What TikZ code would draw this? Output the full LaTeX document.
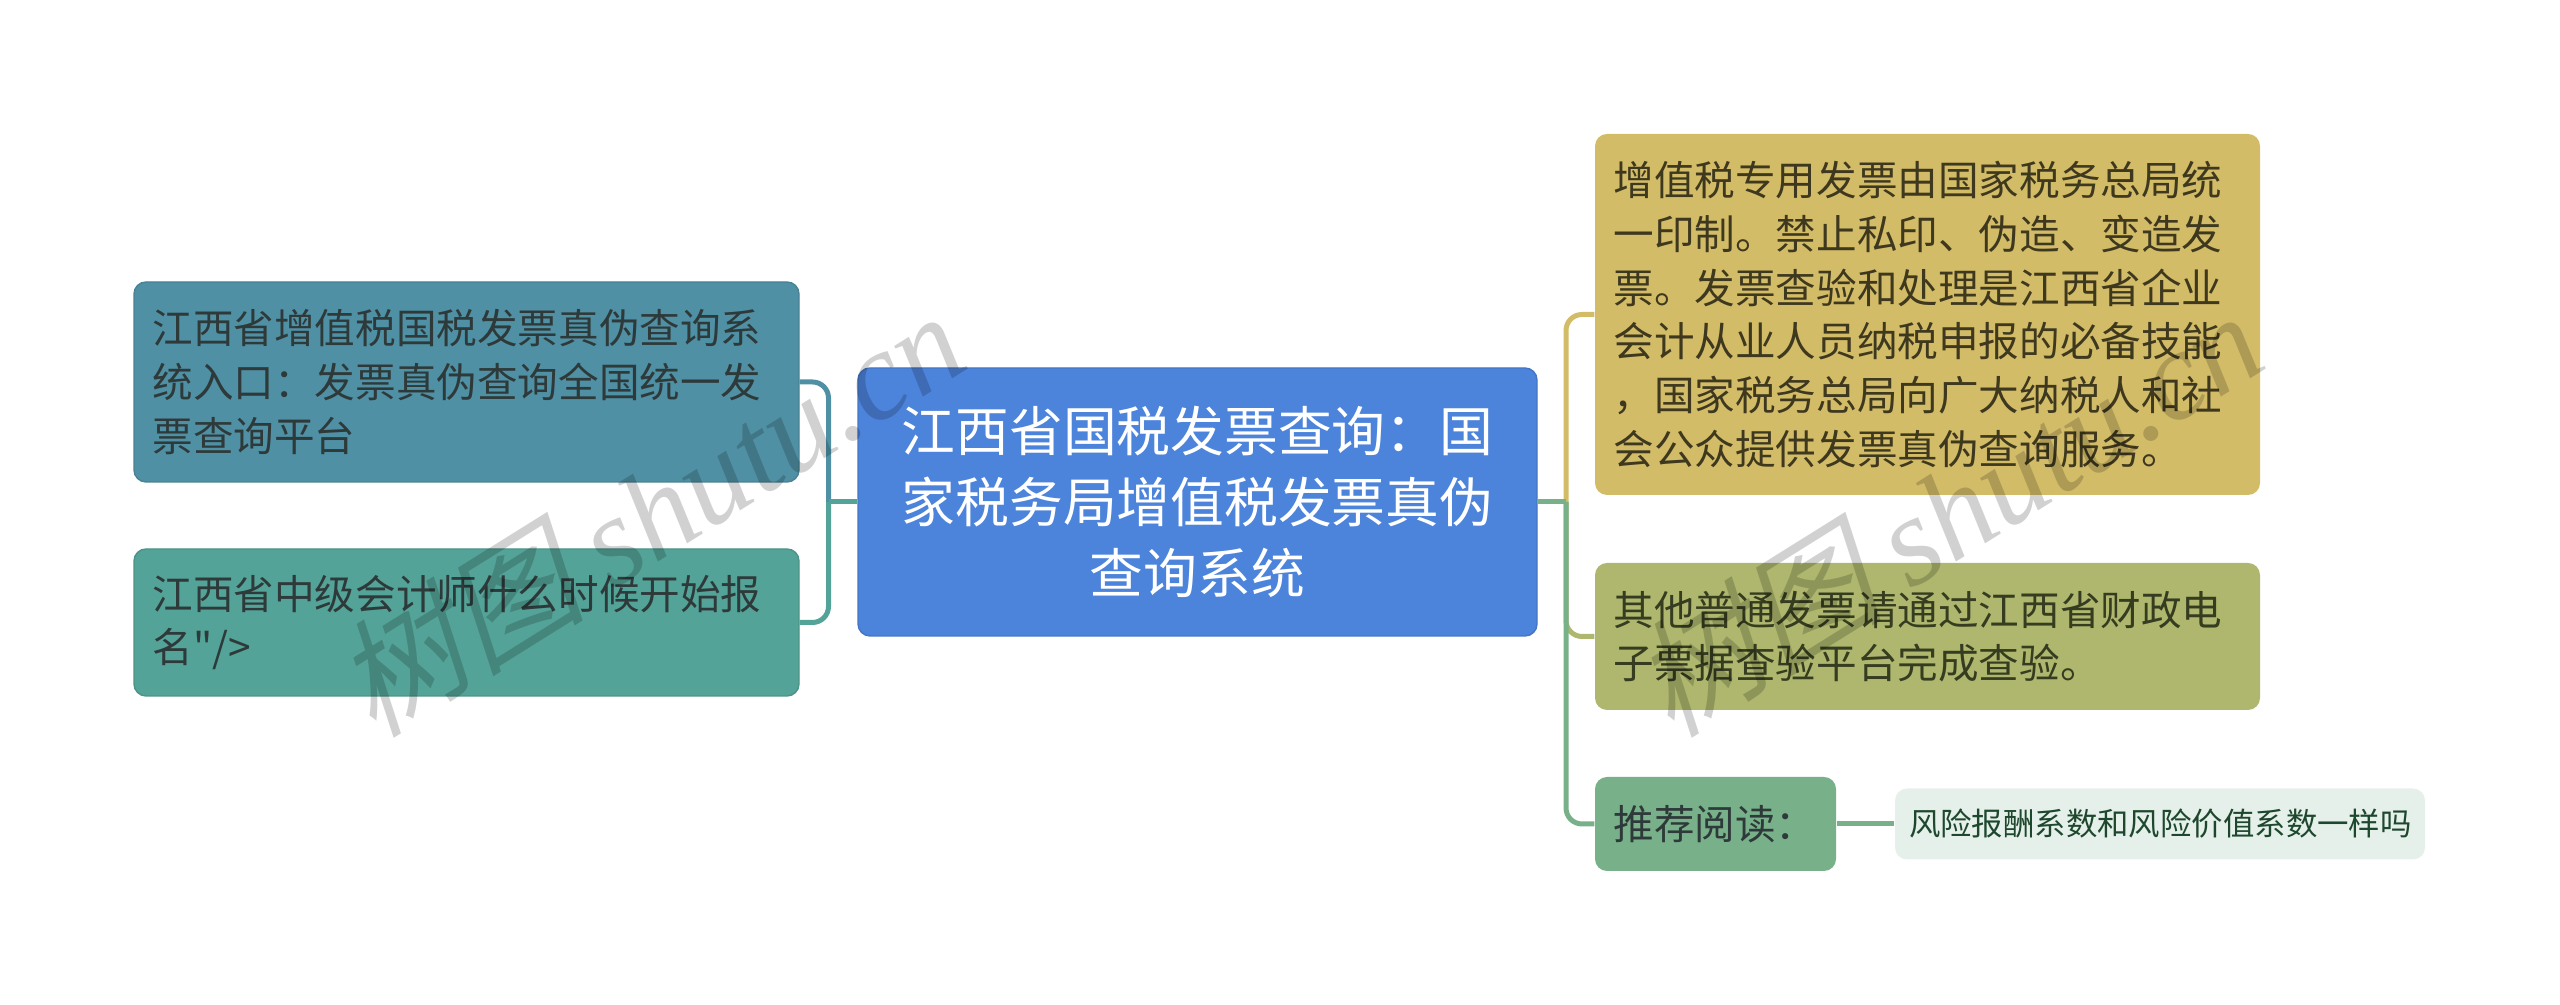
\documentclass[tikz,border=0pt]{standalone}
\usepackage{fontspec}
\setmainfont[Ligatures=TeXOff]{Noto Sans CJK SC}
\newfontfamily\wmcjk[FakeSlant=0.25]{Noto Sans CJK SC}
\newfontfamily\wmlatin{Liberation Serif}[ItalicFont={Liberation Serif Italic}]
\usetikzlibrary{positioning}
\definecolor{leftblue}{RGB}{80,144,165}
\definecolor{leftteal}{RGB}{84,163,152}
\definecolor{mainblue}{RGB}{76,131,219}
\definecolor{rightgold}{RGB}{211,188,104}
\definecolor{rightolive}{RGB}{174,183,109}
\definecolor{rightgreen}{RGB}{120,176,138}
\definecolor{leafgreen}{RGB}{230,240,234}
\definecolor{darktext}{RGB}{46,58,58}
\definecolor{goldtext}{RGB}{62,56,30}
\definecolor{olivetext}{RGB}{54,60,32}
\definecolor{leaftext}{RGB}{30,72,46}
\tikzset{
    topicbox/.style={rounded corners=0.12cm,inner xsep=0.185cm,inner ysep=0pt,align=left,
        font=\fontsize{11.55pt}{15.28pt}\selectfont,text=darktext},
    link/.style={line width=0.05cm,rounded corners=0.16cm},
    watermark/.style={rotate=32,text=black,text opacity=0.18,font=\fontsize{36pt}{36pt}\selectfont}
}

\begin{document}
\begin{tikzpicture}
    \useasboundingbox (0,0) rectangle (25.6,10.05);

    % Main topic
    \node[topicbox,fill=mainblue,draw=mainblue!90!black,text=white,align=center,
        font=\fontsize{15.3pt}{20.2pt}\selectfont,
        text width=6.42cm,minimum height=2.68cm] (main) at (11.975,5.03)
        {江西省国税发票查询：国\\家税务局增值税发票真伪\\查询系统};

    % Left side
    \node[topicbox,fill=leftblue,draw=leftblue!90!black,text width=6.28cm,minimum height=2cm] (lefta) at (4.665,6.23)
        {江西省增值税国税发票真伪查询系\\统入口：发票真伪查询全国统一发\\票查询平台};
    \node[topicbox,fill=leftteal,draw=leftteal!90!black,text width=6.28cm,minimum height=1.47cm] (leftb) at (4.665,3.825)
        {江西省中级会计师什么时候开始报\\名"/>};

    % Right side
    \node[topicbox,fill=rightgold,text=goldtext,text width=6.28cm,minimum height=3.61cm] (righta) at (19.275,6.905)
        {增值税专用发票由国家税务总局统\\一印制。禁止私印、伪造、变造发\\票。发票查验和处理是江西省企业\\会计从业人员纳税申报的必备技能\\，国家税务总局向广大纳税人和社\\会公众提供发票真伪查询服务。};
    \node[topicbox,fill=rightolive,text=olivetext,text width=6.28cm,minimum height=1.47cm] (rightb) at (19.275,3.685)
        {其他普通发票请通过江西省财政电\\子票据查验平台完成查验。};
    \node[topicbox,fill=rightgreen,text width=2.04cm,minimum height=0.94cm] (rightc) at (17.155,1.81)
        {推荐阅读：};
    \node[topicbox,fill=leafgreen,text=leaftext,inner xsep=0.14cm,
        font=\fontsize{8.94pt}{11pt}\selectfont,
        text width=5.02cm,minimum height=0.71cm] (leaf) at (21.6,1.81)
        {风险报酬系数和风险价值系数一样吗};

    % Connectors
    \coordinate (lefttrunk) at (8.285,5.03);
    \coordinate (righttrunk) at (15.66,5.03);
    \draw[link,leftblue] (lefta.east) -| (lefttrunk);
    \draw[link,leftteal] (leftb.east) -| (lefttrunk);
    \draw[link,leftteal] (main.west) -- (lefttrunk);
    \draw[link,rightgold] (righta.west) -| (righttrunk);
    \draw[link,rightolive] (rightb.west) -| (righttrunk);
    \draw[link,rightgreen] (rightc.west) -| (righttrunk);
    \draw[link,rightgreen] (main.east) -- (righttrunk);
    \draw[link,rightgreen] (rightc.east) -- (leaf.west);

    % Watermarks
    \node[watermark] (marka) at (6.48,4.93) {{\wmcjk 树图} {\wmlatin\itshape shutu.cn}};
    \node[watermark] (markb) at (19.46,4.93) {{\wmcjk 树图} {\wmlatin\itshape shutu.cn}};
\end{tikzpicture}
\end{document}
